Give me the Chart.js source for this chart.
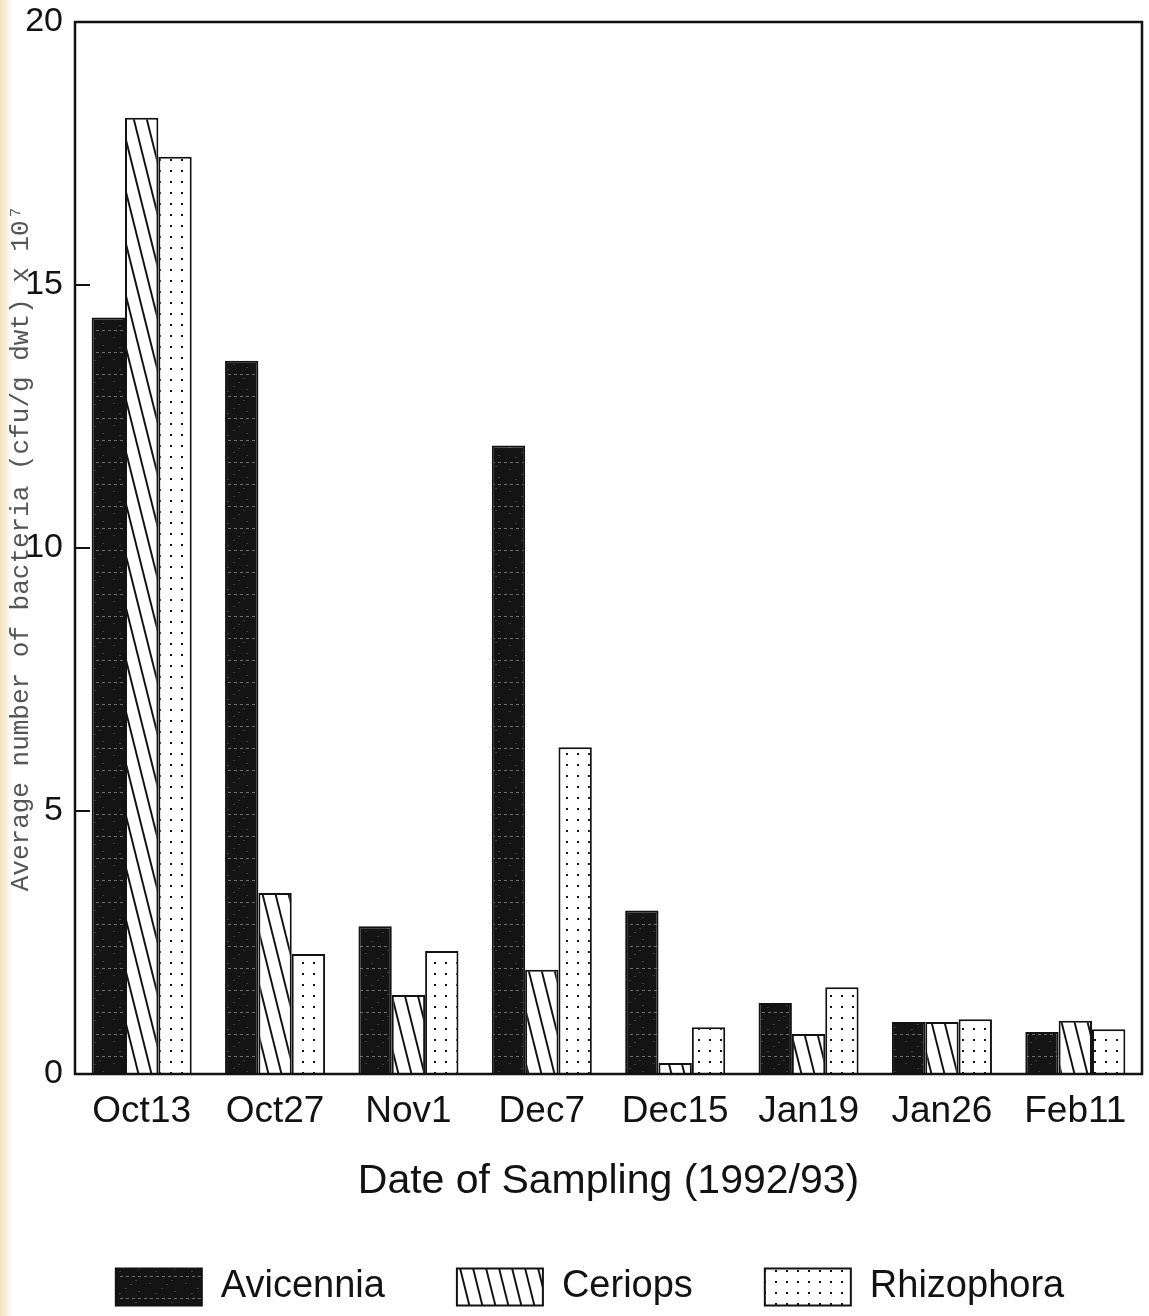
<!DOCTYPE html>
<html>
<head>
<meta charset="utf-8">
<title>Average number of bacteria</title>
<script src="https://cdn.jsdelivr.net/npm/chart.js@4.4.0/dist/chart.umd.min.js"></script>
<style>
    html, body { margin: 0; padding: 0; }
    body {
        width: 1149px;
        height: 1316px;
        overflow: hidden;
        background: linear-gradient(to right, #f3e2b9 0px, #f8edd3 5px, #ffffff 12px);
    }
    #wrap { position: absolute; left: 0; top: 0; width: 1149px; height: 1316px; }
</style>
</head>
<body>
<div id="wrap"><canvas id="bactChart" width="1149" height="1316"></canvas></div>
<script>
// Data
const datas = ['Oct13', 'Oct27', 'Nov1', 'Dec7', 'Dec15', 'Jan19', 'Jan26', 'Feb11'];
const avicennia = [14.38, 13.56, 2.81, 11.95, 3.11, 1.35, 0.99, 0.80];
const ceriops = [18.18, 3.44, 1.50, 1.98, 0.21, 0.76, 0.99, 1.01];
const rhizophora = [17.44, 2.28, 2.34, 6.21, 0.89, 1.65, 1.04, 0.85];
const yTicks = [0, 5, 10, 15, 20];

const canvas = document.getElementById('bactChart');
const ctx = canvas.getContext('2d');
const sans = "'Liberation Sans', Arial, sans-serif";
const ink = '#121212';

// Motifs des barres
function makeTile(w, h, draw) {
    const c = document.createElement('canvas');
    c.width = w;
    c.height = h;
    draw(c.getContext('2d'), w, h);
    return c;
}

const darkFill = ctx.createPattern(makeTile(36, 22, (g, w, h) => {
    g.fillStyle = '#141414';
    g.fillRect(0, 0, w, h);
    g.fillStyle = '#6e6e6e';
    for (let x = 0; x < w; x += 6) g.fillRect(x, 0, 3, 1);
    g.fillStyle = '#3c3c3c';
    [[5, 7], [17, 12], [27, 4], [11, 17], [30, 15], [22, 8]].forEach(([x, y]) => g.fillRect(x, y, 2, 1));
}), 'repeat');

const hatchFill = ctx.createPattern(makeTile(13, 52, (g, w, h) => {
    g.fillStyle = '#ffffff';
    g.fillRect(0, 0, w, h);
    g.strokeStyle = ink;
    g.lineWidth = 2;
    [-w, 0, w].forEach(dx => {
        g.beginPath();
        g.moveTo(dx, 0);
        g.lineTo(dx + w, h);
        g.stroke();
    });
}), 'repeat');

const dotFill = ctx.createPattern(makeTile(11, 11, (g, w, h) => {
    g.fillStyle = '#ffffff';
    g.fillRect(0, 0, w, h);
    g.fillStyle = ink;
    g.fillRect(5, 5, 2, 2);
}), 'repeat');

// Cadre + petites graduations vers l'intérieur
const framePlugin = {
    id: 'frame',
    afterDatasetsDraw(chart) {
        const {ctx, chartArea: a} = chart;
        const y = chart.scales.y;
        ctx.save();
        ctx.strokeStyle = ink;
        ctx.lineWidth = 2.5;
        ctx.strokeRect(a.left, a.top, a.right - a.left, a.bottom - a.top);
        ctx.lineWidth = 2;
        yTicks.slice(1, -1).forEach(v => {
            const py = Math.round(y.getPixelForValue(v));
            ctx.beginPath();
            ctx.moveTo(a.left, py);
            ctx.lineTo(a.left + 15, py);
            ctx.stroke();
        });
        ctx.restore();
    }
};

// Légende : hauteur fixe malgré le grand espacement horizontal, un peu décalée à droite
const legendFit = {
    id: 'legendFit',
    afterInit(chart) {
        const lg = chart.legend;
        const orig = lg.fit;
        lg.fit = function () {
            orig.call(this);
            this.height = 120;
        };
    },
    afterUpdate(chart) {
        chart.legend.left += 19;
        chart.legend.right += 19;
    }
};

new Chart(canvas, {
    type: 'bar',
    data: {
        labels: datas,
        datasets: [
            { label: 'Avicennia', data: avicennia, backgroundColor: darkFill, borderColor: ink, borderWidth: 2 },
            { label: 'Ceriops', data: ceriops, backgroundColor: hatchFill, borderColor: ink, borderWidth: 2 },
            { label: 'Rhizophora', data: rhizophora, backgroundColor: dotFill, borderColor: ink, borderWidth: 2 }
        ]
    },
    options: {
        responsive: false,
        animation: false,
        layout: { padding: { left: 0, right: 7, top: 22, bottom: 0 } },
        datasets: { bar: { categoryPercentage: 0.75, barPercentage: 1.0 } },
        scales: {
            x: {
                grid: { display: false, drawTicks: false },
                border: { display: false },
                ticks: { color: ink, font: { family: sans, size: 37 }, padding: 16, maxRotation: 0, autoSkip: false },
                title: {
                    display: true,
                    text: 'Date of Sampling (1992/93)',
                    color: ink,
                    font: { family: sans, size: 41, lineHeight: 0.4 },
                    padding: { top: 0, bottom: 6 }
                },
                afterFit: s => { s.height = 122; }
            },
            y: {
                min: 0,
                max: 20,
                afterBuildTicks: s => { s.ticks = yTicks.map(v => ({ value: v })); },
                grid: { display: false, drawTicks: false },
                border: { display: false },
                ticks: { color: ink, font: { family: sans, size: 34 }, padding: 12 },
                title: {
                    display: true,
                    text: 'Average number of bacteria (cfu/g dwt) x 10\u2077',
                    color: '#555555',
                    font: { family: "'Liberation Mono', 'DejaVu Sans Mono', monospace", size: 26 },
                    padding: { top: 6, bottom: 0 }
                },
                afterFit: s => {
                    s.width = 75;
                    s.paddingTop = 0;
                    s.paddingBottom = 0;
                }
            }
        },
        plugins: {
            legend: {
                position: 'bottom',
                labels: {
                    boxWidth: 86,
                    boxHeight: 37,
                    padding: 72,
                    color: ink,
                    font: { family: sans, size: 38 }
                }
            },
            tooltip: { enabled: false }
        }
    },
    plugins: [framePlugin, legendFit]
});
</script>
</body>
</html>
